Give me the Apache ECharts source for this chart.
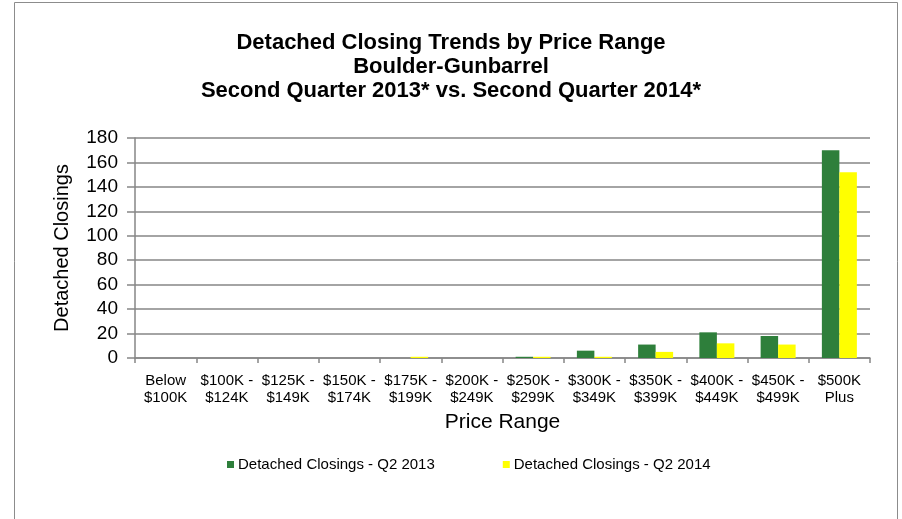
<!DOCTYPE html>
<html>
<head>
    <meta charset="utf-8"/>
    <style>
        html, body {
            height: 100%;
            margin: 0;
            padding: 0;
            background: #ffffff;
        }

        .container {
            width: 902px;
            height: 519px;
        }
    </style>
</head>
<body>
<div id="main" class="container"></div>
<script src="https://cdn.jsdelivr.net/npm/echarts@6/dist/echarts.min.js"></script>
<script type="text/javascript">
    // 数据
    var categories = ['Below\n$100K', '$100K -\n$124K', '$125K -\n$149K', '$150K -\n$174K', '$175K -\n$199K',
        '$200K -\n$249K', '$250K -\n$299K', '$300K -\n$349K', '$350K -\n$399K', '$400K -\n$449K',
        '$450K -\n$499K', '$500K\nPlus'];
    var q2_2013 = [0, 0, 0, 0, 0, 0, 1, 6, 11, 21, 18, 170];
    var q2_2014 = [0, 0, 0, 0, 1, 0, 1, 1, 5, 12, 11, 152];
    var seriesNames = ['Detached Closings - Q2 2013', 'Detached Closings - Q2 2014'];

    var font = "'Liberation Sans', Arial, sans-serif";
    var myChart = echarts.init(document.getElementById('main'));

    var option = {
        animation: false,
        textStyle: {fontFamily: font},
        // 外框
        graphic: [{
            type: 'rect',
            shape: {x: 14.5, y: 2.5, width: 883, height: 600},
            style: {fill: 'none', stroke: '#8c8c8c', lineWidth: 1}
        }],
        title: {
            left: 'center',
            top: 31,
            padding: 0,
            text: 'Detached Closing Trends by Price Range\nBoulder-Gunbarrel\nSecond Quarter 2013* vs. Second Quarter 2014*',
            textStyle: {
                color: '#000000',
                fontSize: 22,
                fontWeight: 'bold',
                fontFamily: font,
                lineHeight: 24
            }
        },
        legend: {
            left: 222,
            top: 452,
            itemWidth: 7,
            itemHeight: 7,
            itemGap: 68,
            icon: 'rect',
            selectedMode: false,
            data: seriesNames,
            textStyle: {color: '#000000', fontSize: 15, fontFamily: font, padding: [0, 0, 0, -1]}
        },
        grid: {
            left: 135,
            right: 32,
            top: 138,
            bottom: 161,
            containLabel: false,
            outerBoundsMode: 'none'
        },
        xAxis: {
            type: 'category',
            data: categories,
            name: 'Price Range',
            nameLocation: 'middle',
            nameGap: 54,
            nameTextStyle: {color: '#000000', fontSize: 21, fontFamily: font},
            axisLine: {lineStyle: {color: '#868686', width: 1.5}},
            axisTick: {show: true, alignWithLabel: false, length: 5, lineStyle: {color: '#868686', width: 1.5}},
            axisLabel: {
                interval: 0,
                color: '#000000',
                fontSize: 15,
                lineHeight: 17,
                margin: 14,
                fontFamily: font
            }
        },
        yAxis: {
            type: 'value',
            min: 0,
            max: 180,
            interval: 20,
            name: 'Detached Closings',
            nameLocation: 'middle',
            nameGap: 63,
            nameTextStyle: {color: '#000000', fontSize: 20, fontFamily: font},
            axisLine: {show: true, lineStyle: {color: '#868686', width: 1.5}},
            axisTick: {show: true, length: 8, lineStyle: {color: '#868686', width: 1.5}},
            splitLine: {show: true, lineStyle: {color: '#868686', width: 1.5}},
            axisLabel: {color: '#000000', fontSize: 19, margin: 17, fontFamily: font}
        },
        series: [{
            name: seriesNames[0],
            type: 'bar',
            data: q2_2013,
            barWidth: 17.5,
            barGap: '0%',
            itemStyle: {color: '#2e7f3b'}
        }, {
            name: seriesNames[1],
            type: 'bar',
            data: q2_2014,
            barWidth: 17.5,
            barGap: '0%',
            itemStyle: {color: '#ffff00'}
        }]
    };

    myChart.setOption(option);
</script>
</body>
</html>
